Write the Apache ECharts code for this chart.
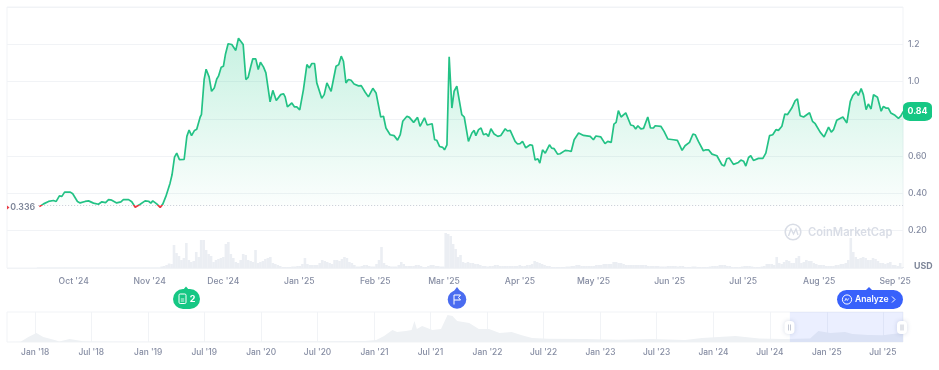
<!DOCTYPE html>
<html><head><meta charset="utf-8">
<style>html,body{margin:0;padding:0;background:#fff}#c{width:939px;height:370px}</style>
<script src="https://cdn.jsdelivr.net/npm/echarts@6/dist/echarts.min.js"></script>
</head><body><div id="c"></div>
<script>
const priceDays=[0.5,2.2,4.2,6.2,7.3,8.6,9.6,10.7,13.0,14.0,15.9,17.0,19.0,20.4,22.4,24.4,25.8,27.3,28.5,29.8,31.8,33.5,34.5,36.6,37.9,39.3,41.3,43.3,44.7,45.6,46.4,48.0,49.4,50.5,51.7,53.4,54.2,55.2,56.1,57.2,59.1,60.2,61.1,62.1,63.3,64.2,65.6,66.1,67.2,68.0,69.2,70.2,71.3,72.3,73.0,74.1,75.0,75.8,76.9,78.4,80.0,81.1,83.0,84.1,85.0,86.1,86.9,88.1,89.1,90.0,91.2,92.2,93.9,95.0,96.4,97.0,98.2,99.3,100.0,100.9,102.7,103.8,104.7,105.9,107.4,108.8,109.8,110.8,111.9,112.8,114.8,115.8,116.9,118.6,120.6,121.7,122.7,123.6,124.6,125.6,126.7,127.9,128.7,129.7,130.8,132.4,133.7,135.5,136.8,138.7,139.8,140.8,142.5,144.1,145.5,146.6,147.6,149.3,150.3,152.0,152.6,153.6,154.6,156.4,157.5,159.5,160.5,161.4,162.5,163.8,164.5,165.5,166.4,167.5,168.4,169.5,171.5,172.5,174.2,174.9,175.6,176.5,177.2,178.3,179.3,180.3,181.4,182.3,183.3,184.6,186.1,187.3,189.1,190.0,191.1,193.1,194.1,195.1,196.1,197.4,199.2,200.1,201.2,202.3,203.1,204.2,205.3,207.0,207.9,208.9,210.3,211.3,213.4,214.7,215.8,217.0,218.8,220.8,223.5,224.8,225.8,227.8,229.5,230.6,232.0,233.1,234.0,234.9,236.0,237.9,239.9,241.0,241.9,242.8,244.0,245.1,246.8,247.9,249.1,249.8,252.1,253.4,254.9,257.2,258.8,260.7,261.9,263.7,265.1,266.0,267.3,269.3,270.3,271.4,272.8,274.8,276.8,277.8,278.8,279.8,281.5,283.5,284.5,285.6,286.5,287.6,288.5,289.6,291.6,293.4,294.6,296.1,297.4,298.7,299.7,301.1,302.3,303.4,305.1,306.5,307.4,308.5,309.9,312.3,313.5,314.6,316.6,318.2,320.0,321.1,322.0,323.3,325.8,327.4,328.8,329.8,331.2,332.1,333.2,334.1,335.2,336.1,337.2,338.2,339.8,341.3,342.2,343.2,344.2,345.2,346.9,348.3,349.2,350.3];
const priceValues=[.329,.344,.357,.362,.357,.387,.384,.407,.407,.398,.357,.349,.357,.360,.348,.342,.355,.351,.367,.364,.349,.355,.367,.367,.355,.326,.342,.360,.358,.348,.360,.344,.325,.344,.384,.455,.500,.595,.616,.581,.582,.706,.740,.710,.738,.744,.810,.823,1.011,1.066,1.025,.948,.966,1.014,1.029,1.077,1.082,1.145,1.203,1.199,1.167,1.233,1.199,1.011,1.022,1.082,1.122,1.122,1.065,1.104,1.079,1.047,.891,.953,.898,.889,.930,.935,.918,.864,.885,.864,.864,.848,.957,1.091,1.073,1.097,1.097,.993,.910,.930,.993,.948,1.082,1.091,1.136,1.109,.993,1.011,1.007,.987,.989,.977,.978,.943,.918,.964,.939,.810,.814,.751,.715,.710,.686,.715,.787,.814,.808,.781,.776,.808,.760,.805,.767,.774,.688,.685,.652,.647,.634,.661,1.133,.858,.948,.975,.823,.810,.679,.679,.724,.738,.710,.742,.751,.715,.720,.706,.747,.719,.706,.711,.747,.735,.738,.679,.665,.667,.679,.645,.661,.658,.579,.586,.563,.634,.616,.661,.643,.640,.611,.613,.631,.629,.625,.688,.724,.711,.706,.688,.708,.703,.667,.679,.674,.772,.781,.844,.810,.832,.767,.763,.746,.763,.746,.749,.810,.751,.751,.763,.760,.733,.692,.688,.685,.631,.656,.674,.719,.715,.679,.629,.634,.634,.611,.602,.554,.547,.586,.590,.556,.566,.579,.573,.547,.593,.602,.577,.588,.588,.616,.710,.715,.742,.738,.760,.826,.823,.858,.898,.907,.817,.810,.833,.787,.774,.729,.703,.756,.729,.742,.792,.810,.778,.894,.925,.946,.925,.962,.930,.849,.880,.853,.930,.916,.841,.867,.858,.858,.832,.819,.803,.814,.840];
const volumeValues=[.5,.5,.5,.5,.5,.5,.5,.5,.5,.5,.5,.5,.5,.5,.5,.5,.5,.5,.5,.5,.5,.5,.5,.5,.5,.5,.5,.5,.5,.5,.5,.5,.5,.5,.5,.5,.5,.5,.5,.5,.5,.5,.5,.5,.5,.5,.5,.5,.5,.5,1.5,2,3,4.5,4,23,15,12,8,10,25,8,6,7,16,11,28,28,18,14,12,6,8,9,10,11,24,26,14,10,6,5,8,14,13,8,7,6,18,5,6,7,9,10,11,5,4,3,2,1,1,1,1,1.5,1.5,2,2,4,10,4,3,3,3,3,5,8,7,6,5,4,8,8,7,9,11,10,6,5,3,1.5,1.5,2,3,3,2,1.5,1.5,4,8,21,5,3,2,1.5,1.5,1.5,3,6,4,2,2,2,2,3,3,2,1,1,2,3,3,2,2,1.5,1.5,35,34,32,24,19,11,13,6,5,6,5,5,4,4,3,2,2,1.5,2,2,3,3,2,2,2,2,2,2,2,2,3,2,2,3,3,4,7,6,5,4,3,2,2,1,1,1,1,1,1,1.5,1.5,2,2,3,3,2,2,2,2,2,2,3,3,3,4,4,4,4,6,6,5,5,4,3,3,3,3,3,3,3,3,3,2,2,2,2,2,1.5,1.5,1.5,2,2,2,2,1.5,2,2,1,1,1,1.5,1.5,1,1,1,1,1,1.5,2,2,2,3,3,3,2,2,1,1,1,1,1.5,2,2,2,1.5,1,1,1,1.5,2,4,4,4,3,11,5,4,6,8,7,5,5,10,12,5,6,8,7,7,5,4,3,3,3,2,2,2,2,3,3,4,4,5,8,30,16,11,9,10,11,10,8,8,10,9,7,5,5,4,5,6,3,3,2,5,1];
const monthDates=['2024-10-01','2024-11-01','2024-12-01','2025-01-01','2025-02-01','2025-03-01','2025-04-01','2025-05-01','2025-06-01','2025-07-01','2025-08-01','2025-09-01'];
const monthLabels=["Oct '24","Nov '24","Dec '24","Jan '25","Feb '25","Mar '25","Apr '25","May '25","Jun '25","Jul '25","Aug '25","Sep '25"];
const navTickDates=['2018-01-01','2018-07-01','2019-01-01','2019-07-01','2020-01-01','2020-07-01','2021-01-01','2021-07-01','2022-01-01','2022-07-01','2023-01-01','2023-07-01','2024-01-01','2024-07-01','2025-01-01','2025-07-01'];
const navTickLabels=["Jan '18","Jul '18","Jan '19","Jul '19","Jan '20","Jul '20","Jan '21","Jul '21","Jan '22","Jul '22","Jan '23","Jul '23","Jan '24","Jul '24","Jan '25","Jul '25"];
const navDates=['2017-10-02','2017-11-15','2017-12-10','2018-01-05','2018-01-27','2018-03-05','2018-03-20','2018-04-22','2018-06-05','2018-07-27','2019-01-05','2019-06-15','2020-01-15','2020-08-01','2020-12-01','2021-01-07','2021-02-01','2021-02-28','2021-03-15','2021-04-12','2021-05-01','2021-05-10','2021-05-18','2021-06-04','2021-07-07','2021-08-04','2021-08-25','2021-09-10','2021-09-25','2021-11-03','2021-12-04','2022-01-06','2022-02-09','2022-03-20','2022-04-22','2022-05-25','2022-07-16','2022-11-12','2023-03-01','2023-06-15','2023-10-01','2023-11-25','2024-03-12','2024-05-28','2024-08-12','2024-11-08','2024-12-05','2025-01-12','2025-03-01','2025-03-25','2025-05-15','2025-07-01','2025-08-01','2025-09-05'];
const navValues=[0,.3,5,9,5,2,.5,3,.8,.4,.3,.4,.5,.8,1,2,6,12,10,11,12,21,13,16,12,13,27,26,21,19,13,13,9,10,6.7,4,3.3,3,2.3,3,2,4,6,3.6,3,3.6,11,9,10,8,7,6.7,8,9];
const tickValues=[0,.2,.4,.6,.8,1,1.2,1.4];
const tickLabels=['USD','0.20','0.40','0.60','0.80','1.0','1.2',''];
const baseline=0.336, lastPrice=0.84;

const DAY=86400000, ms=s=>Date.parse(s+'T00:00:00Z');
const sampleStart=Date.UTC(2024,8,16,12), sampleStep=1.0073*DAY;
const viewMin=Date.UTC(2024,8,3,19), viewMax=viewMin+365.4*DAY;
const priceData=priceDays.map((d,i)=>[sampleStart+d*sampleStep,priceValues[i]]);
const volumeData=volumeValues.map((v,i)=>[sampleStart+i*sampleStep,v]);
const navData=navDates.map((d,i)=>[ms(d),navValues[i]]);
const monthTicks=monthDates.map(ms), navTicks=navTickDates.map(ms);
const FONT='Inter', GRID='#f1f3f6', TXT='#858ca2';

const chart=echarts.init(document.getElementById('c'),null,{renderer:'canvas'});
chart.setOption({
 animation:false,backgroundColor:'#fff',
 textStyle:{fontFamily:FONT},
 grid:[
  {left:7,right:36,top:7,bottom:102,show:true,borderColor:GRID,borderWidth:1,backgroundColor:'transparent'},
  {left:7,right:36,top:312,bottom:28,show:true,borderColor:GRID,borderWidth:1,backgroundColor:'transparent'}],
 xAxis:[
  {type:'value',gridIndex:0,min:viewMin,max:viewMax,scale:true,
   axisLine:{show:false},axisTick:{show:false},splitLine:{show:false},
   axisLabel:{customValues:monthTicks,margin:9,color:TXT,fontSize:8.6,fontWeight:500,fontFamily:FONT,hideOverlap:false,
     showMinLabel:true,showMaxLabel:true,formatter:v=>monthLabels[monthTicks.indexOf(+v)]||''}},
  {type:'value',gridIndex:1,min:ms('2017-10-02'),max:viewMax,scale:true,
   axisLine:{show:false},axisTick:{show:false,customValues:navTicks},
   splitLine:{show:true,lineStyle:{color:GRID,width:1}},
   axisLabel:{customValues:navTicks,margin:6,color:TXT,fontSize:8.4,fontWeight:500,fontFamily:FONT,hideOverlap:false,
     formatter:v=>navTickLabels[navTicks.indexOf(+v)]||''}}],
 yAxis:[
  {type:'value',gridIndex:0,position:'right',min:0,max:1.4,interval:.2,
   axisLine:{show:false},axisTick:{show:false},
   splitLine:{show:true,lineStyle:{color:GRID,width:1}},
   axisLabel:{margin:5,fontFamily:FONT,fontSize:8.6,fontWeight:500,color:TXT,
     formatter:v=>{const l=tickLabels[tickValues.findIndex(t=>Math.abs(t-v)<1e-6)]||'';return l==='USD'?'{u|USD}':l;},
     rich:{u:{fontFamily:FONT,fontSize:8.8,fontWeight:700,color:'#7d8598',padding:[0,0,3,6]}}}},
  {type:'value',gridIndex:0,min:0,max:261,show:false},
  {type:'value',gridIndex:1,min:0,max:30,show:false}],
 visualMap:{show:false,seriesIndex:0,dimension:1,min:0,max:1.4,pieces:[
   {min:0,max:baseline,color:'#ea3943'},{min:baseline,max:1.4,color:'#23c285'}]},
 series:[
  {type:'line',name:'Price',xAxisIndex:0,yAxisIndex:0,data:priceData,showSymbol:false,symbol:'none',smooth:false,z:5,
   lineStyle:{width:1.7},
   areaStyle:{origin:baseline,color:new echarts.graphic.LinearGradient(0,0,0,1,[
     {offset:0,color:'rgba(22,199,132,.34)'},{offset:1,color:'rgba(22,199,132,.02)'}])},
   markLine:{silent:true,symbol:'none',z:4,
     lineStyle:{type:[1,2],color:'#c6cad3',width:1},
     label:{position:'start',distance:3,formatter:'0.336',fontFamily:FONT,fontSize:8.8,fontWeight:600,color:'#7d8598',offset:[0,2]},
     data:[[{coord:[sampleStart,baseline]},{coord:[viewMax,baseline]}]]},
   markPoint:{silent:true,z:20,symbol:'roundRect',symbolSize:[29,19],symbolOffset:[14.5,0],
     itemStyle:{color:'#16c784'},
     label:{formatter:'0.84',color:'#fff',fontFamily:FONT,fontSize:8.8,fontWeight:700},
     data:[{coord:[viewMax,lastPrice]}]}},
  {type:'bar',name:'Volume',xAxisIndex:0,yAxisIndex:1,data:volumeData,barWidth:2.6,z:2,
   itemStyle:{color:'#ebeef3'}},
  {type:'line',name:'Overview',xAxisIndex:1,yAxisIndex:2,data:navData,showSymbol:false,symbol:'none',z:3,
   lineStyle:{width:0},areaStyle:{color:'#eef1f4',opacity:1},
   markArea:{silent:true,z:4,itemStyle:{color:'rgba(56,97,251,.1)'},
     data:[[{coord:[viewMin,0]},{coord:[viewMax,30]}]]}}
 ],
 graphic:[
  {type:'polygon',shape:{points:[[7,205.5],[9.5,207.5],[7,209.5]]},style:{fill:'#ea3943'},z:30},
  {type:'circle',shape:{cx:793,cy:232,r:7.8},style:{fill:'none',stroke:'#d9dde6',lineWidth:1.6},z:1},
  {type:'polyline',shape:{points:[[788.5,236],[791,229],[793.5,234],[796,229],[798,235]]},style:{fill:'none',stroke:'#d9dde6',lineWidth:1.4},z:1},
  {type:'text',style:{x:808,y:233,text:'CoinMarketCap',font:'600 11.2px Inter',fill:'#d9dde6',textVerticalAlign:'middle'},z:1},
  {type:'polygon',shape:{points:[[183,290],[186,286.5],[189,290]]},style:{fill:'#16c784'},z:30},
  {type:'rect',shape:{x:173,y:289,width:27,height:20,r:10},style:{fill:'#16c784'},z:30},
  {type:'rect',shape:{x:179,y:294,width:7,height:9.5,r:1.2},style:{fill:'none',stroke:'#fff',lineWidth:1},z:31},
  {type:'line',shape:{x1:180.8,y1:299,x2:184.2,y2:299},style:{stroke:'#fff',lineWidth:.8},z:31},
  {type:'line',shape:{x1:180.8,y1:301,x2:184.2,y2:301},style:{stroke:'#fff',lineWidth:.8},z:31},
  {type:'text',style:{x:192.5,y:299.5,text:'2',font:'700 9px Inter',fill:'#fff',textAlign:'center',textVerticalAlign:'middle'},z:31},
  {type:'polygon',shape:{points:[[454,291],[457,287],[460,291]]},style:{fill:'#4a6cf0'},z:30},
  {type:'circle',shape:{cx:457,cy:299.5,r:9.3},style:{fill:'#4a6cf0'},z:30},
  {type:'polyline',shape:{points:[[454,304.5],[454,295],[460.5,295],[458.5,297.5],[460.5,300],[454,300]]},style:{fill:'none',stroke:'#fff',lineWidth:1},z:31},
  {type:'polygon',shape:{points:[[866,290],[869,287],[872,290]]},style:{fill:'#3861fb'},z:30},
  {type:'rect',shape:{x:837,y:290,width:66,height:19,r:9.5},style:{fill:'#3861fb'},z:30},
  {type:'circle',shape:{cx:847,cy:299.5,r:4.6},style:{fill:'none',stroke:'#fff',lineWidth:1},z:31},
  {type:'polyline',shape:{points:[[844.8,301],[846,298.3],[847.3,300.5],[848.8,298.3]]},style:{fill:'none',stroke:'#fff',lineWidth:.8},z:31},
  {type:'text',style:{x:855,y:299.5,text:'Analyze',font:'600 8.6px Inter',fill:'#fff',textVerticalAlign:'middle'},z:31},
  {type:'polyline',shape:{points:[[892,296.5],[895,299.5],[892,302.5]]},style:{fill:'none',stroke:'#fff',lineWidth:1},z:31},
  {type:'rect',shape:{x:784.5,y:321,width:10,height:13,r:4},style:{fill:'#fff',shadowBlur:4,shadowColor:'rgba(90,110,160,.25)'},z:30},
  {type:'rect',shape:{x:897,y:321,width:10,height:13,r:4},style:{fill:'#fff',shadowBlur:4,shadowColor:'rgba(90,110,160,.25)'},z:30},
  {type:'line',shape:{x1:788.5,y1:324.5,x2:788.5,y2:330.5},style:{stroke:'#c3c8d4',lineWidth:1},z:31},
  {type:'line',shape:{x1:790.5,y1:324.5,x2:790.5,y2:330.5},style:{stroke:'#c3c8d4',lineWidth:1},z:31},
  {type:'line',shape:{x1:901,y1:324.5,x2:901,y2:330.5},style:{stroke:'#c3c8d4',lineWidth:1},z:31},
  {type:'line',shape:{x1:903,y1:324.5,x2:903,y2:330.5},style:{stroke:'#c3c8d4',lineWidth:1},z:31}
 ]
});
</script></body></html>
